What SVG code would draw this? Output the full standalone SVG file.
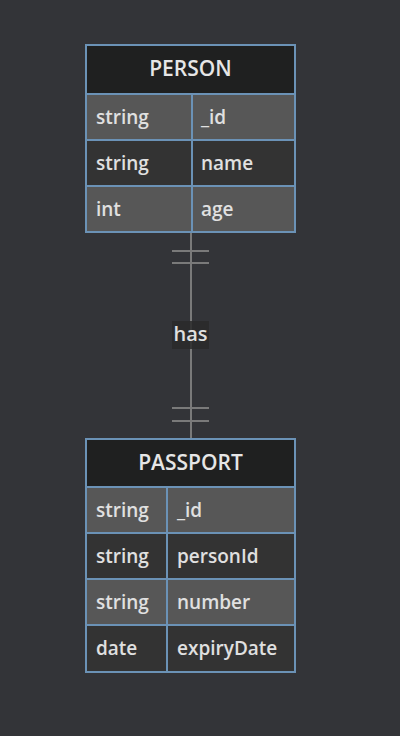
<svg xmlns="http://www.w3.org/2000/svg" width="400" height="736" viewBox="0 0 400 736">
<style>
.hdr{fill:#1f2020;stroke:#6b92b6;stroke-width:2}
.odd{fill:#575757;stroke:#6b92b6;stroke-width:2}
.even{fill:#333333;stroke:#6b92b6;stroke-width:2}
.ht{font-family:"Open Sans","Liberation Sans",sans-serif;font-size:21px;font-weight:600;fill:#e6e6e6;text-anchor:middle}
.t{font-family:"Open Sans","Liberation Sans",sans-serif;font-size:19px;font-weight:600;fill:#e0e0e0}
.ln{stroke:#7a7a7a;stroke-width:2;fill:none}
</style>
<rect width="400" height="736" fill="#333438"/>
<g id="connectors">
<line class="ln" x1="191" y1="233" x2="191" y2="438"/>
<line class="ln" x1="172" y1="251" x2="209" y2="251"/>
<line class="ln" x1="172" y1="263" x2="209" y2="263"/>
<line class="ln" x1="172" y1="408" x2="209" y2="408"/>
<line class="ln" x1="172" y1="421" x2="209" y2="421"/>
<rect x="172" y="321" width="37" height="28" fill="#2a2a2a" opacity="0.85"/>
<text x="190.5" y="341" class="t" style="text-anchor:middle;font-size:20px">has</text>
</g>
<g id="PERSON">
<rect class="hdr" x="86" y="45" width="209" height="49"/>
<rect class="odd" x="86" y="94" width="106" height="46"/>
<rect class="odd" x="192" y="94" width="103" height="46"/>
<rect class="even" x="86" y="140" width="106" height="46"/>
<rect class="even" x="192" y="140" width="103" height="46"/>
<rect class="odd" x="86" y="186" width="106" height="46"/>
<rect class="odd" x="192" y="186" width="103" height="46"/>
<text class="ht" x="190.5" y="76">PERSON</text>
<text class="t" x="96" y="124">string</text>
<text class="t" x="201" y="124">_id</text>
<text class="t" x="96" y="170">string</text>
<text class="t" x="201" y="170">name</text>
<text class="t" x="96" y="216">int</text>
<text class="t" x="201" y="216">age</text>
</g>
<g id="PASSPORT">
<rect class="hdr" x="86" y="439" width="209" height="48"/>
<rect class="odd" x="86" y="487" width="81" height="46"/>
<rect class="odd" x="167" y="487" width="128" height="46"/>
<rect class="even" x="86" y="533" width="81" height="46"/>
<rect class="even" x="167" y="533" width="128" height="46"/>
<rect class="odd" x="86" y="579" width="81" height="46"/>
<rect class="odd" x="167" y="579" width="128" height="46"/>
<rect class="even" x="86" y="625" width="81" height="47"/>
<rect class="even" x="167" y="625" width="128" height="47"/>
<text class="ht" x="190.5" y="470">PASSPORT</text>
<text class="t" x="96" y="517">string</text>
<text class="t" x="177" y="517">_id</text>
<text class="t" x="96" y="563">string</text>
<text class="t" x="177" y="563">personId</text>
<text class="t" x="96" y="609">string</text>
<text class="t" x="177" y="609">number</text>
<text class="t" x="96" y="655">date</text>
<text class="t" x="177" y="655">expiryDate</text>
</g>
</svg>
